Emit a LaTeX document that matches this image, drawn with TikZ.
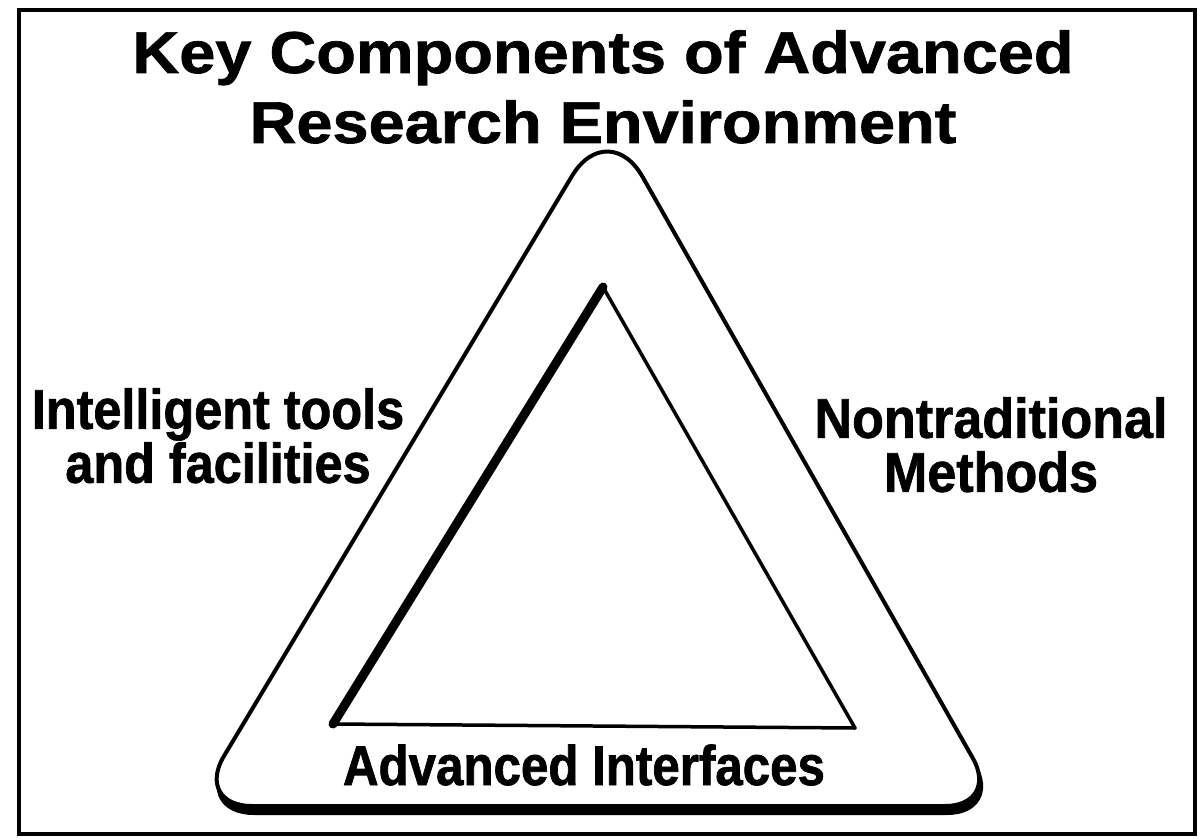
\documentclass[tikz,border=0pt]{standalone}
\usepackage{fontspec}
\setmainfont{Liberation Sans}
\newfontfamily\titleface{Liberation Sans}[FakeStretch=1.1, BoldFeatures={FakeBold=1.2}]
\newfontfamily\labelface{Liberation Sans}[FakeStretch=0.9, BoldFeatures={FakeBold=1.2}]
\newfontfamily\rightface{Liberation Sans}[FakeStretch=0.93, BoldFeatures={FakeBold=1.2}]
\newfontfamily\baseface{Liberation Sans}[FakeStretch=0.88, BoldFeatures={FakeBold=1.2}]
\usetikzlibrary{calc}

\tikzset{
  ttl/.style={font=\titleface\bfseries\fontsize{59}{70}\selectfont, align=center, inner sep=0pt},
  lbl/.style={font=\labelface\bfseries\fontsize{56}{54}\selectfont, align=center, inner sep=0pt},
  rim/.style={line width=4pt, line join=round},
}

% outline of the outer (rounded) triangle
\newcommand{\rimpath}{(b1) -- (b2) .. controls ($(b2)!0.55!(or)$) and ($(r1)!0.55!(or)$) .. (r1)
  -- (r2) .. controls ($(r2)!0.55!(ot)$) and ($(l1)!0.55!(ot)$) .. (l1)
  -- (l2) .. controls ($(l2)!0.55!(ol)$) and ($(b1)!0.55!(ol)$) .. (b1) -- cycle}

\begin{document}
\begin{tikzpicture}[x=1pt,y=-1pt]
\useasboundingbox (0,0) rectangle (1204,840);
\draw[line width=4.5pt] (19,10) rectangle (1195,834);

\node[ttl, anchor=north] (title) at (603,30) {Key Components of Advanced\\Research Environment};

% outer triangle
\coordinate (ot) at (608,116);
\coordinate (ol) at (194,806);
\coordinate (or) at (1000,806);
\coordinate (b1) at ($(ol)!58pt!(or)$);
\coordinate (b2) at ($(or)!55pt!(ol)$);
\coordinate (r1) at ($(or)!55pt!(ot)$);
\coordinate (r2) at ($(ot)!70pt!(or)$);
\coordinate (l1) at ($(ot)!70pt!(ol)$);
\coordinate (l2) at ($(ol)!58pt!(ot)$);
\fill[rim, draw, transform canvas={shift={(2,7)}}] \rimpath;
\draw[rim, fill=white] \rimpath;

% inner triangle
\coordinate (it) at (603,287);
\coordinate (il) at (333,724);
\coordinate (ir) at (855,728);
\draw[rim, line width=3.5pt] (it) -- (ir) -- (il) -- cycle;
\draw[line width=9pt, line cap=round] (it) -- (il);

\node[lbl, anchor=north] (tools) at (218,388) {Intelligent tools\\and facilities};
\node[lbl, anchor=north, font=\rightface\bfseries\fontsize{56}{54}\selectfont] (methods) at (991,397) {Nontraditional\\Methods};
\node[lbl, anchor=base, font=\baseface\bfseries\fontsize{56}{54}\selectfont] (interfaces) at (584,785) {Advanced Interfaces};
\end{tikzpicture}
\end{document}
